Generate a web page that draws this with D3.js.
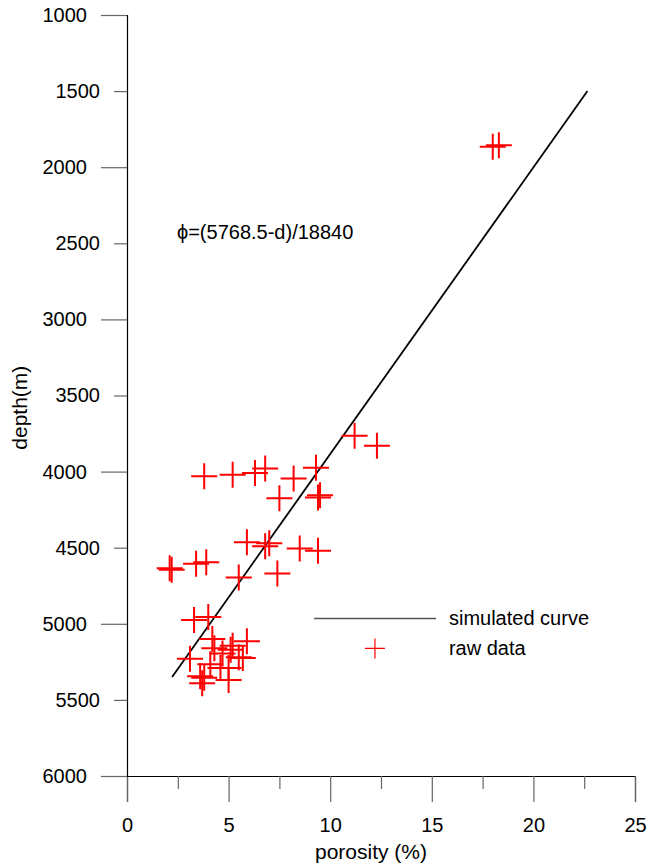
<!DOCTYPE html>
<html>
<head>
<meta charset="utf-8">
<script src="https://cdn.jsdelivr.net/npm/d3@7"></script>
<style>
  body { margin: 0; background: #fff; }
  text { font-family: "Liberation Sans", Arial, sans-serif; fill: #000; }
</style>
</head>
<body>
<svg id="chart" width="647" height="867"></svg>
<script>
// RAW DATA (porosity %, depth m)
const porosity = [
  18.0, 18.3, 11.2, 12.3,
  3.8, 5.2, 6.3, 6.8, 8.2, 7.5, 9.3, 9.5, 9.4,
  5.9, 6.8, 7.0, 8.5, 9.4,
  3.4, 3.9, 2.1, 2.2, 5.5, 7.4,
  3.3, 4.0,
  3.1, 4.2, 4.3, 4.7, 3.6, 3.8, 4.1, 4.6, 5.9, 5.2, 5.5, 5.0, 5.1, 5.0, 5.7, 3.7
];
const depth = [
  1865, 1855, 3765, 3830,
  4030, 4020, 4010, 3980, 4045, 4175, 3975, 4155, 4170,
  4465, 4490, 4470, 4505, 4520,
  4605, 4595, 4635, 4645, 4695, 4670,
  4975, 4955,
  5230, 5100, 5160, 5195, 5345, 5355, 5265, 5290, 5115, 5145, 5220, 5290, 5170, 5370, 5225, 5390
];

// SIMULATED CURVE phi=(5768.5-d)/18840, end points
const curvePorosity = [22.66, 2.22];
const curveDepth = [1500, 5350];

// TICKS
const xTicks = [0, 2.5, 5, 7.5, 10, 12.5, 15, 17.5, 20, 22.5, 25];
const xLabels = [0, 5, 10, 15, 20, 25];
const yTicks = [1000, 1500, 2000, 2500, 3000, 3500, 4000, 4500, 5000, 5500, 6000];
const yMajor = [1000, 2000, 3000, 4000, 5000, 6000];

const margin = { top: 15, left: 127 };
const width = 508;
const height = 761;

const svg = d3.select("#chart");
const g = svg.append("g").attr("transform", `translate(${margin.left},${margin.top})`);

// SCALES
const xScale = d3.scaleLinear().domain([0, 25]).range([0, width]);
const yScale = d3.scaleLinear().domain([1000, 6000]).range([0, height]);

// AXES
const xAxis = d3.axisBottom(xScale)
  .tickValues(xTicks)
  .tickSize(26)
  .tickPadding(8)
  .tickFormat(d => (xLabels.includes(d) ? d : ""));

const yAxis = d3.axisLeft(yScale)
  .tickValues(yTicks)
  .tickSize(26)
  .tickFormat(d3.format("d"));

const gx = g.append("g").attr("transform", `translate(0,${height})`).call(xAxis);
gx.select(".domain").attr("stroke", "#000").attr("stroke-width", 1.2);
gx.selectAll(".tick line")
  .attr("stroke", "#666")
  .attr("stroke-width", 1.2)
  .attr("y2", d => (xLabels.includes(d) ? 26 : 13));
gx.selectAll(".tick text").attr("font-size", 20).attr("y", 42).attr("dy", "0.71em");

const gy = g.append("g").call(yAxis);
gy.select(".domain").attr("stroke", "#000").attr("stroke-width", 1.2);
gy.selectAll(".tick line")
  .attr("stroke", "#666")
  .attr("stroke-width", 1.2)
  .attr("x2", d => (yMajor.includes(d) ? -26 : -13));
gy.selectAll(".tick text")
  .attr("font-size", 20)
  .attr("x", d => (yMajor.includes(d) ? -40 : -27));

// AXIS TITLES
g.append("text")
  .attr("x", width / 2 - 10)
  .attr("y", height + 83)
  .attr("text-anchor", "middle")
  .attr("font-size", 21)
  .text("porosity (%)");

g.append("text")
  .attr("transform", `translate(-100,${yScale(3580)}) rotate(-90)`)
  .attr("text-anchor", "middle")
  .attr("font-size", 21)
  .text("depth(m)");

// SIMULATED CURVE
const curve = d3.line().x(d => xScale(d[0])).y(d => yScale(d[1]));
g.append("path")
  .attr("d", curve(d3.zip(curvePorosity, curveDepth)))
  .attr("fill", "none")
  .attr("stroke", "#000")
  .attr("stroke-width", 1.8);

// RAW DATA CROSSES
const cross = r => `M${-r},0H${r}M0,${-r}V${r}`;
g.append("g")
  .selectAll("path")
  .data(d3.zip(porosity, depth))
  .join("path")
  .attr("transform", d => `translate(${xScale(d[0])},${yScale(d[1])})`)
  .attr("d", cross(13))
  .attr("fill", "none")
  .attr("stroke", "#f00")
  .attr("stroke-width", 2);

// EQUATION
g.append("text")
  .attr("x", xScale(2.46))
  .attr("y", yScale(2470))
  .attr("font-size", 20)
  .text("\u03d5=(5768.5-d)/18840");

// LEGEND
const legend = g.append("g").attr("transform", `translate(${xScale(9.2)},${yScale(4965)})`);
legend.append("line")
  .attr("x1", 0).attr("x2", 122)
  .attr("stroke", "#555").attr("stroke-width", 1.4);
legend.append("text").attr("x", 135).attr("dy", "0.35em").attr("font-size", 20).text("simulated curve");
legend.append("path")
  .attr("transform", "translate(61,30)")
  .attr("d", cross(10))
  .attr("stroke", "#f00").attr("stroke-width", 1.2);
legend.append("text").attr("x", 135).attr("y", 30).attr("dy", "0.35em").attr("font-size", 20).text("raw data");
</script>
</body>
</html>
